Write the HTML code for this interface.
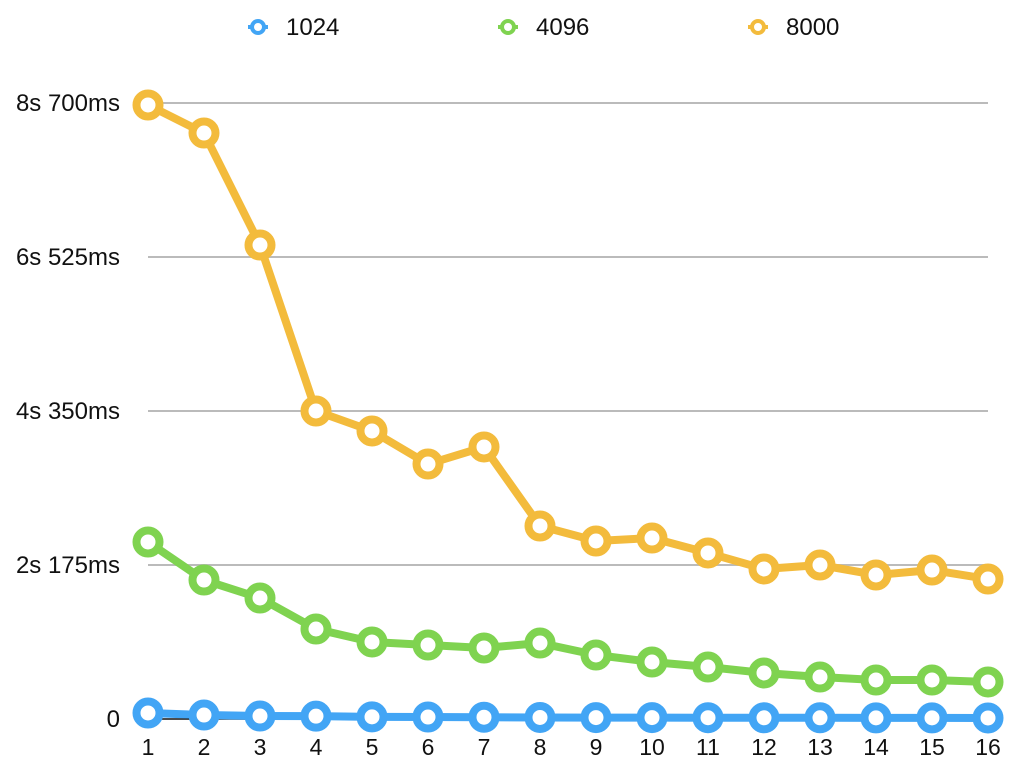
<!DOCTYPE html>
<html><head><meta charset="utf-8"><style>
html,body{margin:0;padding:0;background:#fff;}
svg{display:block;font-family:"Liberation Sans",Helvetica,Arial,sans-serif;}
</style></head><body>
<svg id="chart" width="1014" height="764" viewBox="0 0 1014 764" xmlns="http://www.w3.org/2000/svg"></svg>
<script>
const categories = [1,2,3,4,5,6,7,8,9,10,11,12,13,14,15,16];
const series1024 = [85,56,42,40,30,28,25,22,20,20,18,17,17,16,16,15];
const series4096 = [2500,1963,1709,1271,1088,1045,1003,1073,904,805,734,650,593,551,551,523];
const series8000 = [8672,8276,6694,4350,4068,3601,3842,2726,2514,2556,2345,2119,2175,2034,2104,1977];
const seriesNames = ["1024","4096","8000"];
const seriesColors = ["#42a5f5","#7fd350","#f3bb3c"];
const tickValues = [0,2175,4350,6525,8700];
const tickLabels = ["0","2s 175ms","4s 350ms","6s 525ms","8s 700ms"];

const NS="http://www.w3.org/2000/svg";
const svg=document.getElementById('chart');
const x0=148,x1=988,y0=719,y1=103,ymax=8700;
function xs(i){return x0+(x1-x0)*i/(categories.length-1);}
function ys(v){return y0-(y0-y1)*v/ymax;}
function mk(tag,attrs,parent){const e=document.createElementNS(NS,tag);for(const k in attrs)e.setAttribute(k,attrs[k]);(parent||svg).appendChild(e);return e;}

const grid=mk('g',{});


tickValues.forEach((v,i)=>{
  if(i>0){
    const l=mk('line',{x1:x0,x2:x1,y1:ys(v),y2:ys(v),stroke:'#bbbbbb','stroke-width':2},grid);
    
    
  }
  const t=mk('text',{x:120,y:ys(v)+8,'text-anchor':'end','font-size':24,fill:'#111'});
  t.textContent=tickLabels[i];
  
  
});
const base=mk('line',{x1:x0,x2:x1,y1:y0,y2:y0,stroke:'#111','stroke-width':1.5});


categories.forEach((c,i)=>{
  const t=mk('text',{x:xs(i),y:755,'text-anchor':'middle','font-size':23,fill:'#111'});
  t.textContent=c;
  
  
});

const allSeries=[series1024,series4096,series8000];
allSeries.forEach((data,s)=>{
  const g=mk('g',{});
  
  
  const pts=data.map((v,i)=>xs(i)+','+ys(v)).join(' ');
  const pl=mk('polyline',{points:pts,fill:'none',stroke:seriesColors[s],'stroke-width':8,'stroke-linejoin':'round'},g);
  
  
  data.forEach((v,i)=>{
    const c=mk('circle',{cx:xs(i),cy:ys(v),r:11.5,fill:'#fff',stroke:seriesColors[s],'stroke-width':8},g);
    
    
  });
});

const legendX=[258,508,758];
seriesNames.forEach((n,s)=>{
  const g=mk('g',{});
  
  
  mk('line',{x1:legendX[s]-10,x2:legendX[s]+10,y1:27,y2:27,stroke:seriesColors[s],'stroke-width':4},g);
  mk('circle',{cx:legendX[s],cy:27,r:6,fill:'#fff',stroke:seriesColors[s],'stroke-width':4},g);
  const t=mk('text',{x:legendX[s]+28,y:35,'font-size':24,fill:'#111'},g);
  t.textContent=n;
});
</script>
</body></html>
